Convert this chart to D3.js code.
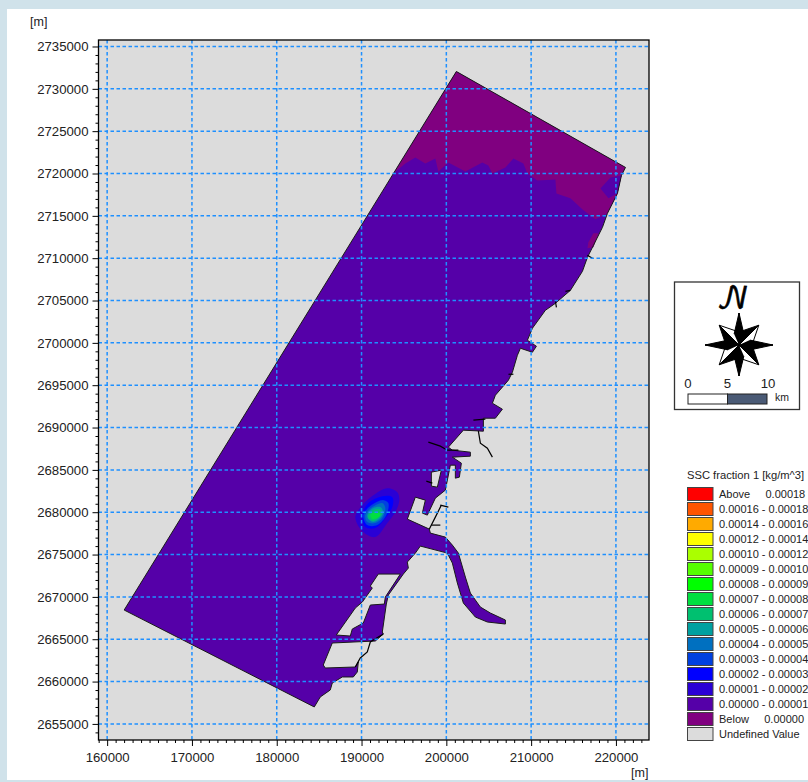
<!DOCTYPE html>
<html><head><meta charset="utf-8">
<script src="https://cdn.jsdelivr.net/npm/d3@7"></script>
<style>
html,body{margin:0;padding:0;background:#d0e2ea;overflow:hidden}
svg{display:block}
text{font-family:"Liberation Sans",Arial,sans-serif;fill:#222}
</style></head><body><svg id="c" width="808" height="782"></svg>
<script>
const xMajor=[160000,170000,180000,190000,200000,210000,220000];
const yMajor=[2655000,2660000,2665000,2670000,2675000,2680000,2685000,2690000,2695000,2700000,2705000,2710000,2715000,2720000,2725000,2730000,2735000];
const xDomain=[158980,223900];
const yDomain=[2735767,2653100];
const legendTitle="SSC fraction 1 [kg/m^3]";
const legendLabels=["Above     0.00018","0.00016 - 0.00018","0.00014 - 0.00016","0.00012 - 0.00014","0.00010 - 0.00012","0.00009 - 0.00010","0.00008 - 0.00009","0.00007 - 0.00008","0.00006 - 0.00007","0.00005 - 0.00006","0.00004 - 0.00005","0.00003 - 0.00004","0.00002 - 0.00003","0.00001 - 0.00002","0.00000 - 0.00001","Below     0.00000","Undefined Value"];
const legendColors=["#ff0000","#ff5500","#ffaa00","#ffff00","#aaff00","#55ff00","#00ff00","#00e040","#00c070","#00a0a0","#0070c0","#0040e0","#0000ff","#2a00d5","#5500a8","#800080","#dcdcdc"];
// domain outline [m]
const domainOutline=[[201182,2732050],[221124,2720722],[220652,2719778],[220180,2717654],[219000,2715294],[218410,2713642],[217348,2711518],[216640,2710102],[216050,2708450],[214634,2706208],[212864,2704674],[211684,2703848],[210150,2701724],[209560,2700308],[210622,2699600],[210150,2698892],[208734,2699364],[208380,2698538],[207790,2696532],[207318,2695588],[205784,2693818],[205430,2692874],[206610,2692166],[205784,2691104],[204368,2691104],[204368,2689570],[202008,2689688],[200238,2687682],[200710,2687328],[202834,2687092],[202834,2686620],[200710,2686502],[201772,2685794],[201536,2684142],[201064,2684024],[201064,2685558],[200474,2685558],[199884,2682608],[198704,2681664],[197760,2679658],[197170,2679894],[197524,2681428],[196344,2681782],[195400,2679186],[197996,2678006],[198114,2677534],[199884,2677062],[200710,2676118],[201418,2675174],[202244,2672342],[202834,2670454],[204014,2668802],[205194,2668094],[206964,2667268],[206964,2666796],[204840,2667032],[203424,2667622],[202008,2669274],[201300,2671634],[200710,2673994],[200120,2675174],[196934,2676000],[196344,2675174],[195400,2674112],[195518,2673404],[194928,2672696],[193158,2670218],[192922,2669156],[192450,2665852],[192568,2665616],[191624,2664790],[186550,2664554],[185488,2661958],[185724,2661604],[189264,2661722],[189618,2662312],[189500,2661132],[189028,2660542],[187730,2660542],[186550,2659834],[186314,2659008],[185134,2658182],[184426,2657002],[162006,2668448]];
const islandA=[[191978,2672696],[194574,2672696],[192804,2669982],[192686,2669156],[191034,2669038],[190208,2666914],[188910,2666206],[188674,2665380],[187022,2665498],[189264,2668684],[190090,2669392],[191270,2671044],[191034,2671280]];
const islandB=[[198232,2684732],[199412,2684968],[198940,2682962],[198232,2683080]];
// "Below" regions
const belowMain=[[193866,2720132],[195164,2721194],[196344,2721902],[197524,2721194],[198704,2721784],[199058,2720250],[200238,2721312],[202244,2720250],[204250,2721312],[204958,2720958],[205430,2720014],[206964,2720722],[207908,2721784],[209088,2721194],[209560,2720014],[210740,2719188],[212864,2719306],[212982,2717654],[214634,2717064],[216168,2715648],[217584,2714586],[219000,2715294],[220180,2717654],[220652,2719778],[221124,2720722],[201182,2732050]];
const belowSmall=[[217348,2712934],[217938,2712934],[217348,2711282],[216640,2711164],[216758,2711872]];
const lowPatch=[[218174,2718244],[219354,2719542],[220652,2719778],[220180,2717654],[219118,2717064]];
// plume contours, outer to inner, with their legend band index
const plumeBands=[13,12,11,10,9,8,7];
const plume1=[[189264,2679422],[190090,2680838],[191388,2682018],[193040,2682844],[194220,2682372],[194456,2681428],[193984,2680012],[193040,2678714],[191624,2677062],[190208,2677652]];
const plume2=[[190090,2679658],[190798,2681074],[192450,2681900],[193630,2681782],[193630,2680602],[192804,2679304],[191624,2678124],[190444,2678242]];
const plume3=[[190208,2679658],[191034,2680720],[192568,2681428],[193158,2681074],[192922,2679658],[191860,2678478],[190680,2678478]];
const plume4=[[190444,2679658],[191270,2680602],[192450,2681074],[192804,2680484],[192450,2679304],[191624,2678714],[190680,2678832]];
const plume5=[[190680,2679658],[191388,2680484],[192214,2680602],[192568,2680012],[192214,2679304],[191388,2678832],[190798,2679186]];
const plume6=[[190798,2679658],[191388,2680248],[192096,2680366],[192450,2679894],[191978,2679304],[191388,2678950],[190798,2679304]];
const plume7=[[191034,2679658],[191506,2680012],[191978,2680012],[192214,2679658],[191860,2679304],[191270,2679186]];
const plumes=[plume1,plume2,plume3,plume4,plume5,plume6,plume7];
// jetties and structures [m]
const jetties=[
[[197878,2688272],[199294,2687800],[200120,2687328],[201418,2687328]],
[[203778,2689570],[204014,2688154],[204840,2687564],[205430,2686502]],
[[197642,2683670],[198350,2683434]],
[[199294,2680838],[200238,2680602]],
[[199412,2680838],[198704,2679422],[197996,2678006]],
[[198232,2678478],[199294,2678478]],
[[216640,2710338],[217230,2709984]],
[[212864,2704910],[212982,2704202]],
[[214044,2706090],[214634,2706208]],
[[207318,2696296],[207908,2696296]],
[[203188,2690868],[204604,2690986]],
[[192568,2665616],[191034,2664672],[190680,2663492],[189854,2662784],[189264,2661722]]
];
const scaleTicks=[0,5,10];
const compassAngles=[45,135,225,315,0,90,180,270];
const compassRadii=[28,28,28,28,32,34,31,34];

const svg=d3.select("#c");
svg.append("rect").attr("x",7).attr("y",9).attr("width",801).attr("height",771).attr("fill","#fff");
const L=98.5,R=649,T=40,B=740;
const x=d3.scaleLinear().domain(xDomain).range([L,R]);
const y=d3.scaleLinear().domain(yDomain).range([T,B]);
const line=d3.line().x(d=>x(d[0])).y(d=>y(d[1]));
const closed=d3.line().x(d=>x(d[0])).y(d=>y(d[1])).curve(d3.curveLinearClosed);
const smooth=d3.line().x(d=>x(d[0])).y(d=>y(d[1])).curve(d3.curveCatmullRomClosed.alpha(0.5));
const UNDEF=legendColors[16],LOW=legendColors[14],BELOW=legendColors[15];
svg.append("rect").attr("x",L).attr("y",T).attr("width",R-L).attr("height",B-T).attr("fill",UNDEF);
const map=svg.append("g");
map.append("path").attr("d",closed(domainOutline)).attr("fill",LOW);
map.append("path").attr("d",closed(belowMain)).attr("fill",BELOW);
map.append("path").attr("d",closed(lowPatch)).attr("fill",LOW);
map.append("path").attr("d",closed(belowSmall)).attr("fill",BELOW);
plumes.forEach((p,i)=>map.append("path").attr("d",smooth(p)).attr("fill",legendColors[plumeBands[i]]));
map.append("path").attr("d",closed(domainOutline)).attr("fill","none").attr("stroke","#1a1a1a").attr("stroke-width",1);
[islandA,islandB].forEach(p=>map.append("path").attr("d",closed(p)).attr("fill",UNDEF).attr("stroke","#1a1a1a").attr("stroke-width",1));
jetties.forEach(j=>map.append("path").attr("d",line(j)).attr("fill","none").attr("stroke","#000").attr("stroke-width",1.2));
// grid
const grid=svg.append("g");
const styleGrid=s=>s.attr("stroke","#1e90ff").attr("stroke-width",1.5).attr("stroke-dasharray","3.5,2.5").attr("fill","none");
grid.selectAll("line.gx").data(xMajor).join("line").attr("class","gx").attr("x1",d=>x(d)).attr("x2",d=>x(d)).attr("y1",T).attr("y2",B).call(styleGrid);
grid.selectAll("line.gy").data(yMajor).join("line").attr("class","gy").attr("y1",d=>y(d)).attr("y2",d=>y(d)).attr("x1",L).attr("x2",R).call(styleGrid);
svg.append("rect").attr("x",L).attr("y",T).attr("width",R-L).attr("height",B-T).attr("fill","none").attr("stroke","#000").attr("stroke-width",1.3);
// axes
const xMinor=d3.range(159000,224000,1000).filter(v=>v%10000!==0);
const yMinor=d3.range(2654000,2736000,1000).filter(v=>v%5000!==0);
const ax=svg.append("g").attr("transform",`translate(0,${B})`);
ax.call(d3.axisBottom(x).tickValues(xMajor).tickFormat(d3.format("d")).tickSize(6).tickPadding(7));
const ax2=svg.append("g").attr("transform",`translate(0,${B})`);
ax2.call(d3.axisBottom(x).tickValues(xMinor).tickFormat("").tickSize(3));
const ay=svg.append("g").attr("transform",`translate(${L},0)`);
ay.call(d3.axisLeft(y).tickValues(yMajor).tickFormat(d3.format("d")).tickSize(6).tickPadding(4));
const ay2=svg.append("g").attr("transform",`translate(${L},0)`);
ay2.call(d3.axisLeft(y).tickValues(yMinor).tickFormat("").tickSize(3));
[ax,ax2,ay,ay2].forEach(g=>{g.select(".domain").remove();g.selectAll("line").attr("stroke","#000");g.selectAll("text").attr("font-size",13.2).attr("font-family",'"Liberation Sans",Arial,sans-serif').attr("fill","#222");});
svg.append("text").attr("x",30).attr("y",26).attr("font-size",12.5).text("[m]");
svg.append("text").attr("x",631).attr("y",777).attr("font-size",12.5).text("[m]");
// compass box
svg.append("rect").attr("x",674.5).attr("y",282).attr("width",125).attr("height",127.5).attr("fill","#fff").attr("stroke","#333").attr("stroke-width",1.3);
svg.append("text").attr("x",733).attr("y",308).attr("text-anchor","middle").attr("font-size",29).style("font-family",'"DejaVu Math TeX Gyre","DejaVu Serif","Liberation Serif",serif').style("fill","#000").attr("stroke","#000").attr("stroke-width",0.6).text("\u{1D4A9}");
const star=svg.append("g").attr("transform","translate(739,345)");
compassAngles.forEach((a,i)=>{
  const r=compassRadii[i],t=a*Math.PI/180,diag=a%90!==0,w=diag?0.62:0.42,ri=diag?14:12;
  const P=(rad,ang)=>[rad*Math.sin(ang),-rad*Math.cos(ang)];
  const tip=P(r,t),lft=P(ri,t-w),rgt=P(ri,t+w);
  star.append("path").attr("d",d3.line()([[0,0],tip,rgt])).attr("fill",diag?"#fff":"#000").attr("stroke","#000").attr("stroke-width",1);
  star.append("path").attr("d",d3.line()([[0,0],tip,lft])).attr("fill","#000").attr("stroke","#000").attr("stroke-width",1);
});
const sb=d3.scaleLinear().domain([0,10]).range([688,767]);
svg.append("rect").attr("x",sb(0)).attr("y",394).attr("width",sb(5)-sb(0)).attr("height",10).attr("fill","#fff").attr("stroke","#222");
svg.append("rect").attr("x",sb(5)).attr("y",394).attr("width",sb(10)-sb(5)).attr("height",10).attr("fill","#4a5a75").attr("stroke","#222");
svg.selectAll(".sb").data(scaleTicks).join("text").attr("x",d=>sb(d)-(d===10?-1:0)).attr("y",388).attr("text-anchor","middle").attr("font-size",13.2).text(d=>d);
svg.append("text").attr("x",775).attr("y",401).attr("font-size",10.5).text("km");
// legend
svg.append("text").attr("x",687).attr("y",479).attr("font-size",11.2).text(legendTitle);
const row=d3.scaleLinear().domain([0,1]).range([487.5,502.5]);
const lg=svg.selectAll(".lg").data(legendLabels).join("g").attr("transform",(d,i)=>`translate(687.5,${row(i)})`);
lg.append("rect").attr("width",25.5).attr("height",13).attr("fill",(d,i)=>legendColors[i]).attr("stroke","#444").attr("stroke-width",1);
lg.append("text").attr("x",31.5).attr("y",10.8).attr("font-size",11).style("white-space","pre").text(d=>d);
</script></body></html>
